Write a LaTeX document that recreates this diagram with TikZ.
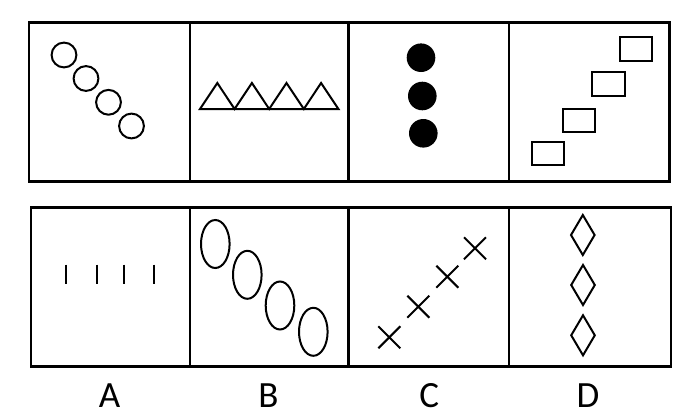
\documentclass[tikz,border=0pt]{standalone}
\usepackage{fontspec}
\setmainfont{Carlito}

\begin{document}
\begin{tikzpicture}[x=1pt, y=-1pt,
    frame/.style = {line width = 2.4pt},
    figure/.style = {line width = 2pt},
    optname/.style = {font = \fontsize{37}{42}\selectfont, inner sep = 0pt}]
    \useasboundingbox (0,0) rectangle (700,415);
    % frames of the two rows
    \coordinate (T1) at (29,22.5);
    \coordinate (T2) at (669.5,181.5);
    \coordinate (B1) at (31,207.5);
    \coordinate (B2) at (671,366.5);
    \draw [frame] (T1) rectangle (T2);
    \draw [frame] (B1) rectangle (B2);
    \draw [frame] (189.7,22.5) -- (189.7,181.5);
    \draw [frame] (348.3,22.5) -- (348.3,181.5);
    \draw [frame] (508.7,22.5) -- (508.7,181.5);
    \draw [frame] (189.7,207.5) -- (189.7,366.5);
    \draw [frame] (348.3,207.5) -- (348.3,366.5);
    \draw [frame] (508.7,207.5) -- (508.7,366.5);
    % top row
    \draw [figure] (64,55) circle (12.4pt);
    \draw [figure] (86,78.5) circle (12.4pt);
    \draw [figure] (108.5,102.3) circle (12.4pt);
    \draw [figure] (131.5,126) circle (12.4pt);
    \draw [figure] (200,109) -- (217.3,83) -- (234.6,109) -- (251.9,83) -- (269.2,109)
        -- (286.5,83) -- (303.8,109) -- (321.1,83) -- (338.4,109) -- cycle;
    \fill (421,57.7) circle (14.3pt);
    \fill (422.3,96) circle (14.3pt);
    \fill (423.3,133.3) circle (14.3pt);
    \draw [figure] (620,37) rectangle (652.3,60.7);
    \draw [figure] (591.7,72) rectangle (624.7,95.7);
    \draw [figure] (563,108.7) rectangle (595.3,131.7);
    \draw [figure] (531.7,142) rectangle (563.7,165);
    % bottom row
    \draw [figure] (66,264.5) -- (66,284.3);
    \draw [figure] (96.7,264.5) -- (96.7,284.3);
    \draw [figure] (124.3,264.5) -- (124.3,284.3);
    \draw [figure] (154.3,264.5) -- (154.3,284.3);
    \draw [figure] (215.3,244) ellipse (14.3pt and 24pt);
    \draw [figure] (247.3,274.8) ellipse (14.3pt and 24pt);
    \draw [figure] (280,305.5) ellipse (14.3pt and 24pt);
    \draw [figure] (313.3,331.8) ellipse (14.3pt and 24pt);
    \coordinate (X1) at (389.3,337.3);
    \coordinate (X2) at (418.3,306.7);
    \coordinate (X3) at (447.3,276.7);
    \coordinate (X4) at (475,248.3);
    \draw [figure, shift = {(X1)}] (-11,-11) -- (11,11) (11,-11) -- (-11,11);
    \draw [figure, shift = {(X2)}] (-11,-11) -- (11,11) (11,-11) -- (-11,11);
    \draw [figure, shift = {(X3)}] (-11,-11) -- (11,11) (11,-11) -- (-11,11);
    \draw [figure, shift = {(X4)}] (-11,-11) -- (11,11) (11,-11) -- (-11,11);
    \coordinate (D1) at (582.8,235);
    \coordinate (D2) at (583,285);
    \coordinate (D3) at (583,335.3);
    \draw [figure, shift = {(D1)}] (0,-20) -- (11.8,0) -- (0,20) -- (-11.8,0) -- cycle;
    \draw [figure, shift = {(D2)}] (0,-20) -- (11.8,0) -- (0,20) -- (-11.8,0) -- cycle;
    \draw [figure, shift = {(D3)}] (0,-20) -- (11.8,0) -- (0,20) -- (-11.8,0) -- cycle;
    % option letters
    \node [optname] (optA) at (109.5,395.8) {A};
    \node [optname] (optB) at (268.5,395.8) {B};
    \node [optname] (optC) at (429.3,395.8) {C};
    \node [optname] (optD) at (588,395.8) {D};
\end{tikzpicture}
\end{document}
